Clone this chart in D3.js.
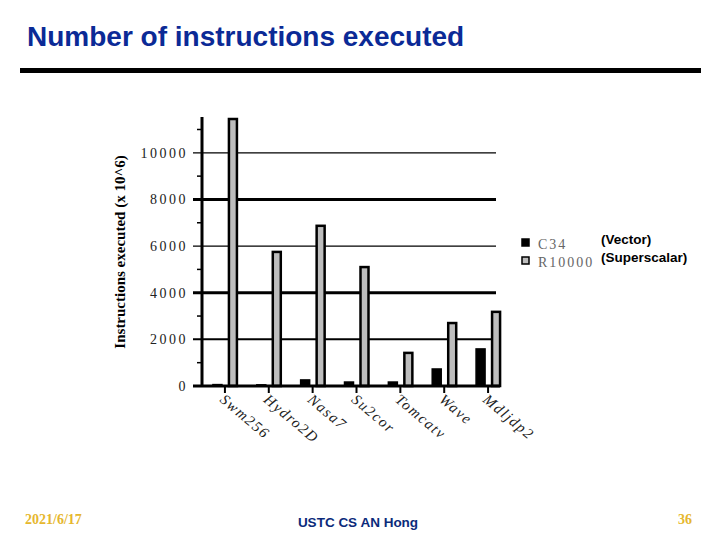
<!DOCTYPE html>
<html>
<head>
<meta charset="utf-8">
<script src="https://cdn.jsdelivr.net/npm/d3@7"></script>
<style>
  body { margin: 0; background: #fff; }
  svg { display: block; }
</style>
</head>
<body>
<div id="chart"></div>
<script>
// benchmarks and instruction counts (x 10^6)
var categories = ['Swm256', 'Hydro2D', 'Nasa7', 'Su2cor', 'Tomcatv', 'Wave', 'Mdljdp2'];
var c34 = [60, 50, 260, 170, 170, 730, 1590];
var r10000 = [11450, 5750, 6870, 5100, 1420, 2700, 3180];
var majorTicks = [0, 2000, 4000, 6000, 8000, 10000];
var minorTicks = [1000, 3000, 5000, 7000, 9000, 11000];
var seriesNames = ['C34', 'R10000'];
var seriesNotes = ['(Vector)', '(Superscalar)'];

var svg = d3.select('#chart').append('svg')
    .attr('width', 720)
    .attr('height', 540);

// slide title + rule
svg.append('text')
    .attr('x', 27).attr('y', 46)
    .attr('font-family', 'Liberation Sans, Arial, sans-serif')
    .attr('font-weight', 'bold')
    .attr('font-size', 28)
    .attr('fill', '#0b2a96')
    .text('Number of instructions executed');

svg.append('rect')
    .attr('x', 20).attr('y', 68)
    .attr('width', 681).attr('height', 5)
    .attr('fill', '#000');

var x = d3.scaleBand().domain(categories).range([203, 510]);
var y = d3.scaleLinear().domain([0, 11450]).range([386, 119]);

var g = svg.append('g');

// grid lines (line weights vary like in the scanned original)
var gridWidth = {2000: 2, 4000: 3, 6000: 1.2, 8000: 3, 10000: 1.2};
g.selectAll('.grid')
    .data(majorTicks.filter(d => d > 0))
    .enter().append('line')
    .attr('x1', 193).attr('x2', 496)
    .attr('y1', d => y(d)).attr('y2', d => y(d))
    .attr('stroke', '#000')
    .attr('stroke-width', d => gridWidth[d]);

// minor ticks
g.selectAll('.minor')
    .data(minorTicks)
    .enter().append('line')
    .attr('x1', 197).attr('x2', 203)
    .attr('y1', d => y(d)).attr('y2', d => y(d))
    .attr('stroke', '#000')
    .attr('stroke-width', 1.5);

// tick labels
g.selectAll('.ylab')
    .data(majorTicks)
    .enter().append('text')
    .attr('x', 188)
    .attr('y', d => y(d) + 5)
    .attr('text-anchor', 'end')
    .attr('font-family', 'Liberation Serif, Times New Roman, serif')
    .attr('font-size', 14)
    .attr('letter-spacing', 2.5)
    .attr('fill', '#222')
    .text(d => d);

// y axis title
svg.append('text')
    .attr('transform', 'translate(125,252) rotate(-90)')
    .attr('text-anchor', 'middle')
    .attr('font-family', 'Liberation Serif, Times New Roman, serif')
    .attr('font-weight', 'bold')
    .attr('font-size', 15)
    .text('Instructions executed (x 10^6)');

// bars
var C34 = categories.map((c, i) => ({cat: c, v: c34[i]}));
var R10K = categories.map((c, i) => ({cat: c, v: r10000[i]}));
var mid = c => x(c) + x.bandwidth() / 2;

g.selectAll('.c34')
    .data(C34)
    .enter().append('rect')
    .attr('x', d => mid(d.cat) - 12)
    .attr('width', 9)
    .attr('y', d => y(d.v))
    .attr('height', d => y(0) - y(d.v))
    .attr('fill', '#000')
    .attr('stroke', '#000')
    .attr('stroke-width', 1.5);

g.selectAll('.r10k')
    .data(R10K)
    .enter().append('rect')
    .attr('x', d => mid(d.cat) + 4)
    .attr('width', 8)
    .attr('y', d => y(d.v))
    .attr('height', d => y(0) - y(d.v))
    .attr('fill', '#bdbdbd')
    .attr('stroke', '#000')
    .attr('stroke-width', 2.5);

// axes lines
g.append('line')
    .attr('x1', 202).attr('x2', 202)
    .attr('y1', 117).attr('y2', 387)
    .attr('stroke', '#000').attr('stroke-width', 3);
g.append('line')
    .attr('x1', 193).attr('x2', 500)
    .attr('y1', y(0)).attr('y2', y(0))
    .attr('stroke', '#000').attr('stroke-width', 3);

// category ticks + rotated labels
g.selectAll('.xtick')
    .data(categories)
    .enter().append('line')
    .attr('x1', d => mid(d)).attr('x2', d => mid(d))
    .attr('y1', 386).attr('y2', 393)
    .attr('stroke', '#000').attr('stroke-width', 2);

g.selectAll('.xlab')
    .data(categories)
    .enter().append('text')
    .attr('transform', d => 'translate(' + (mid(d) - 6) + ',401) rotate(40)')
    .attr('font-family', 'Liberation Serif, Times New Roman, serif')
    .attr('font-style', 'italic')
    .attr('font-size', 15)
    .attr('letter-spacing', 1.5)
    .attr('fill', '#222')
    .text(d => d);

// legend
var leg = svg.append('g').attr('transform', 'translate(520,238)');
var legItems = leg.selectAll('g')
    .data(seriesNames)
    .enter().append('g')
    .attr('transform', (d, i) => 'translate(0,' + i * 18 + ')');

legItems.append('rect')
    .attr('x', 2).attr('y', 1)
    .attr('width', 7).attr('height', 7)
    .attr('fill', (d, i) => i ? '#bdbdbd' : '#000')
    .attr('stroke', '#000')
    .attr('stroke-width', 1.5);

legItems.append('text')
    .attr('x', 18).attr('y', 11)
    .attr('font-family', 'Liberation Serif, Times New Roman, serif')
    .attr('font-size', 14)
    .attr('letter-spacing', 2)
    .attr('fill', '#666')
    .text(d => d);

legItems.append('text')
    .attr('x', 81).attr('y', 6)
    .attr('font-family', 'Liberation Sans, Arial, sans-serif')
    .attr('font-weight', 'bold')
    .attr('font-size', 13.5)
    .attr('fill', '#000')
    .text((d, i) => seriesNotes[i]);

// footer
svg.append('text')
    .attr('x', 25).attr('y', 524)
    .attr('font-family', 'Liberation Serif, Times New Roman, serif')
    .attr('font-weight', 'bold')
    .attr('font-size', 14)
    .attr('fill', '#e6b72e')
    .text('2021/6/17');

svg.append('text')
    .attr('x', 358).attr('y', 527)
    .attr('text-anchor', 'middle')
    .attr('font-family', 'Liberation Sans, Arial, sans-serif')
    .attr('font-weight', 'bold')
    .attr('font-size', 13.5)
    .attr('fill', '#0b2a7a')
    .text('USTC CS AN Hong');

svg.append('text')
    .attr('x', 692).attr('y', 524)
    .attr('text-anchor', 'end')
    .attr('font-family', 'Liberation Serif, Times New Roman, serif')
    .attr('font-weight', 'bold')
    .attr('font-size', 14)
    .attr('fill', '#e6b72e')
    .text('36');
</script>
</body>
</html>
